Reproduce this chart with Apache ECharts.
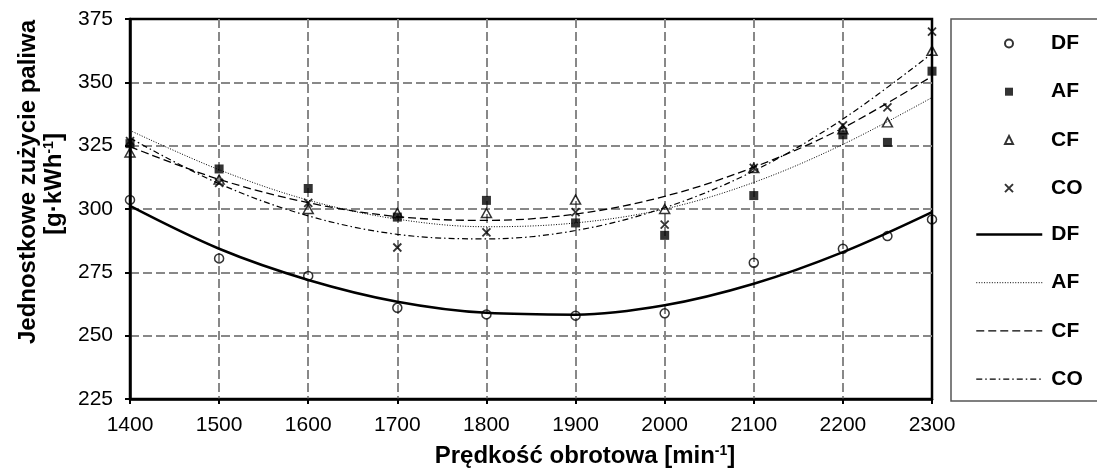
<!DOCTYPE html>
<html>
<head>
<meta charset="utf-8">
<script src="https://cdn.jsdelivr.net/npm/echarts@6/dist/echarts.min.js"></script>
<style>
  html, body { margin: 0; padding: 0; background: #fff; }
  #chart { width: 1097px; height: 469px; }
</style>
</head>
<body>
<div id="chart"></div>
<script>
  // measured points
  const rpm = [1400, 1500, 1600, 1700, 1800, 1900, 2000, 2100, 2200, 2250, 2300]
  const dfPts = [303.6, 280.5, 273.6, 261.0, 258.4, 257.9, 258.8, 278.8, 284.3, 289.3, 295.9]
  const afPts = [325.8, 315.8, 308.1, 296.8, 303.4, 294.5, 289.6, 305.3, 329.3, 326.3, 354.4]
  const cfPts = [322.3, 311.6, 300.0, 298.4, 298.4, 303.7, 300.0, 316.2, 331.5, 334.2, 362.5]
  const coPts = [326.8, 310.3, 302.4, 284.8, 290.8, 298.8, 293.8, 316.2, 333.0, 340.1, 370.0]

  // trend lines
  const fitX = [1400, 1500, 1600, 1700, 1800, 1900, 2000, 2100, 2200, 2300]
  const dfFit = [301.2, 284.3, 272.0, 263.4, 259.0, 258.3, 262.0, 270.5, 283.0, 298.8]
  const afFit = [331.0, 315.5, 303.5, 296.0, 293.0, 294.5, 300.0, 310.5, 325.5, 344.0]
  const cfFit = [324.6, 311.7, 302.5, 297.0, 295.5, 298.0, 305.0, 316.5, 332.0, 352.4]
  const coFit = [328.0, 310.0, 297.3, 290.0, 288.2, 291.5, 300.5, 315.0, 335.5, 361.4]

  const names = ['DF', 'AF', 'CF', 'CO']

  const FONT = "'Liberation Sans', Arial, sans-serif"
  const pair = (xs, ys) => xs.map((x, i) => [x, ys[i]])

  const chart = echarts.init(document.getElementById('chart'))

  const markerSeries = [
    { name: 'DF', data: pair(rpm, dfPts), symbol: 'circle', symbolSize: 9,
      itemStyle: { color: 'rgba(0,0,0,0)', borderColor: '#000', borderWidth: 1.5 } },
    { name: 'AF', data: pair(rpm, afPts), symbol: 'rect', symbolSize: 9,
      itemStyle: { color: '#000' } },
    { name: 'CF', data: pair(rpm, cfPts), symbol: 'triangle', symbolSize: [10, 9],
      itemStyle: { color: 'rgba(0,0,0,0)', borderColor: '#000', borderWidth: 1.5 } },
    { name: 'CO', data: pair(rpm, coPts), symbol: 'path://M0,0L10,10M10,0L0,10', symbolSize: 8,
      itemStyle: { color: 'rgba(0,0,0,0)', borderColor: '#000', borderWidth: 1.8 } }
  ].map(s => Object.assign({ type: 'scatter', z: 5 }, s))

  const lineSeries = [
    { name: 'DF ', data: pair(fitX, dfFit), lineStyle: { color: '#000', width: 2.5, type: 'solid' } },
    { name: 'AF ', data: pair(fitX, afFit), lineStyle: { color: '#000', width: 1, type: [1, 1.6] } },
    { name: 'CF ', data: pair(fitX, cfFit), lineStyle: { color: '#000', width: 1.3, type: [8, 4] } },
    { name: 'CO ', data: pair(fitX, coFit), lineStyle: { color: '#000', width: 1.2, type: [6, 3, 1.5, 3] } }
  ].map(s => Object.assign({ type: 'line', smooth: 0.35, symbol: 'none', z: 3, silent: true,
    itemStyle: { color: '#000' } }, s))

  const legendText = pad => ({ color: '#000', fontSize: 21, fontWeight: 'bold', fontFamily: FONT,
    lineHeight: 20, padding: [0, 0, 0, pad] })

  const axisCommon = {
    axisLine: { show: true, lineStyle: { color: '#000', width: 2.5 } },
    axisTick: { show: true, length: 5, lineStyle: { color: '#000', width: 2 } },
    splitLine: { show: true, showMinLine: false, showMaxLine: false,
      lineStyle: { color: '#888', width: 2, type: [9, 4] } }
  }

  const option = {
    animation: false,
    backgroundColor: '#fff',
    grid: {
      left: 130, right: 165, top: 19, bottom: 70,
      show: true, borderColor: '#000', borderWidth: 2.5
    },
    xAxis: Object.assign({
      type: 'value', min: 1400, max: 2300, interval: 100,
      axisLabel: { color: '#000', fontSize: 21, fontFamily: FONT, margin: 16, formatter: v => String(v) }
    }, axisCommon),
    yAxis: Object.assign({
      type: 'value', min: 225, max: 375, interval: 25,
      axisLabel: { color: '#000', fontSize: 21, fontFamily: FONT, margin: 17 }
    }, axisCommon),
    legend: [
      {
        orient: 'vertical', left: 1004, top: 33, padding: 0,
        itemWidth: 8, itemHeight: 8, itemGap: 27.2,
        selectedMode: false,
        data: names,
        textStyle: legendText(33)
      },
      {
        orient: 'vertical', left: 975, top: 224, padding: 0,
        itemWidth: 66, itemHeight: 8, itemGap: 27.2,
        selectedMode: false,
        data: names.map(n => n + ' '),
        formatter: n => n.trim(),
        itemStyle: { color: 'rgba(0,0,0,0)', borderWidth: 0 },
        lineStyle: { width: 'inherit' },
        textStyle: legendText(4)
      }
    ],
    graphic: [
      { type: 'rect', shape: { x: 951, y: 19, width: 200, height: 382 },
        style: { fill: 'none', stroke: '#555', lineWidth: 1.5 }, silent: true },
      { type: 'text', x: 585, y: 456, style: {
          text: 'Prędkość obrotowa [min{sup|-1}]', fill: '#000',
          font: 'bold 24px ' + FONT, align: 'center', verticalAlign: 'middle',
          rich: { sup: { fontSize: 14, fontWeight: 'bold', fontFamily: FONT, verticalAlign: 'top', lineHeight: 14 } }
      } },
      { type: 'text', x: 28, y: 182, rotation: Math.PI / 2, style: {
          text: 'Jednostkowe zużycie paliwa', fill: '#000',
          font: 'bold 24px ' + FONT, align: 'center', verticalAlign: 'middle'
      } },
      { type: 'text', x: 54, y: 184, rotation: Math.PI / 2, style: {
          text: '[g·kWh{sup|-1}]', fill: '#000',
          font: 'bold 24px ' + FONT, align: 'center', verticalAlign: 'middle',
          rich: { sup: { fontSize: 14, fontWeight: 'bold', fontFamily: FONT, verticalAlign: 'top', lineHeight: 14 } }
      } }
    ],
    series: markerSeries.concat(lineSeries)
  }

  chart.setOption(option)
  window.addEventListener('resize', () => chart.resize())
</script>
</body>
</html>
